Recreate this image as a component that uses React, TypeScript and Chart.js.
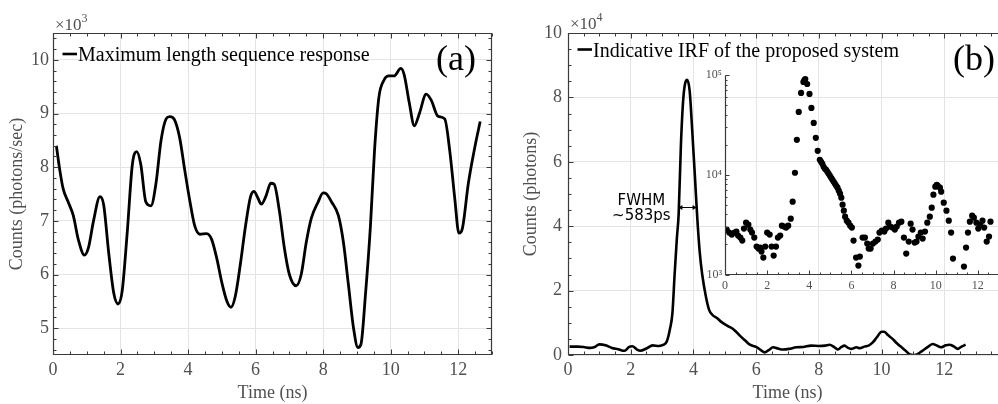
import React, { useEffect, useRef } from 'react';
import { Chart, registerables } from 'chart.js';
Chart.register(...registerables);

// ---------- data ----------
// Panel (a): maximum length sequence response (counts, photons/sec)
const timeA = [0.1, 0.2, 0.3, 0.45, 0.6, 0.75, 0.93, 1.05, 1.2, 1.39, 1.5, 1.65, 1.8, 1.93, 2.05, 2.2, 2.35, 2.48, 2.6, 2.75, 2.9, 3.05, 3.2, 3.35, 3.46, 3.6, 3.75, 3.9, 4.05, 4.2, 4.35, 4.55, 4.7, 4.85, 5.0, 5.15, 5.27, 5.4, 5.55, 5.7, 5.85, 5.95, 6.05, 6.17, 6.3, 6.45, 6.55, 6.7, 6.85, 7.0, 7.2, 7.35, 7.5, 7.65, 7.85, 8.0, 8.1, 8.25, 8.45, 8.6, 8.75, 8.9, 9.03, 9.12, 9.25, 9.4, 9.52, 9.65, 9.8, 9.95, 10.1, 10.3, 10.4, 10.55, 10.7, 10.85, 11.05, 11.2, 11.4, 11.6, 11.75, 11.9, 12.02, 12.12, 12.3, 12.5, 12.65];
const countsA = [8400, 7950, 7600, 7350, 7100, 6650, 6360, 6500, 7000, 7450, 7300, 6400, 5650, 5450, 5700, 6800, 8050, 8290, 8050, 7350, 7280, 7700, 8500, 8900, 8940, 8880, 8550, 7950, 7380, 6900, 6750, 6760, 6650, 6300, 5850, 5500, 5390, 5600, 6200, 6900, 7450, 7550, 7450, 7310, 7450, 7700, 7680, 7200, 6500, 6000, 5790, 6000, 6600, 7050, 7350, 7520, 7500, 7350, 7100, 6600, 5800, 5000, 4640, 4700, 5600, 6900, 8300, 9300, 9620, 9700, 9700, 9840, 9720, 9200, 8770, 9000, 9360, 9250, 8950, 8900, 8300, 7400, 6770, 6850, 7700, 8400, 8850];

// Panel (b): indicative IRF (counts, photons)
const timeB = [0.05, 0.3, 0.5, 0.7, 0.85, 1.0, 1.2, 1.4, 1.6, 1.8, 1.95, 2.05, 2.2, 2.3, 2.5, 2.7, 2.9, 3.05, 3.15, 3.25, 3.33, 3.4, 3.47, 3.53, 3.6, 3.68, 3.8, 3.88, 3.96, 4.05, 4.12, 4.2, 4.28, 4.4, 4.5, 4.6, 4.75, 4.9, 5.1, 5.3, 5.48, 5.65, 5.8, 6.0, 6.15, 6.27, 6.4, 6.54, 6.7, 6.86, 7.05, 7.28, 7.5, 7.75, 8.0, 8.2, 8.34, 8.5, 8.61, 8.72, 8.82, 8.93, 9.03, 9.2, 9.3, 9.45, 9.6, 9.72, 9.85, 10.0, 10.08, 10.2, 10.35, 10.46, 10.6, 10.75, 10.9, 11.0, 11.1, 11.3, 11.5, 11.63, 11.75, 11.89, 12.05, 12.16, 12.3, 12.43, 12.55, 12.68];
const countsB = [2600, 2600, 2500, 2200, 2500, 3300, 3000, 2200, 1800, 1300, 2500, 2700, 1700, 1300, 2000, 3000, 2800, 3200, 4200, 8000, 13000, 25000, 36000, 44000, 65000, 80000, 85500, 82000, 70000, 55000, 43000, 32000, 25000, 18000, 14000, 12500, 11500, 10200, 9000, 7800, 6000, 4500, 3200, 2500, 1500, 800, 1500, 2400, 2000, 1700, 1900, 2400, 2500, 2900, 2800, 2900, 3200, 2400, 1700, 2500, 2900, 2200, 1900, 2400, 2100, 2600, 3000, 3900, 5500, 7200, 7200, 6200, 5000, 3900, 2700, 1500, 200, 0, 100, 1300, 2700, 3400, 3000, 2400, 3000, 3200, 2700, 1900, 2600, 3200];

// Inset: same IRF on a logarithmic scale (scatter)
const timeInset = [0.08, 0.2, 0.32, 0.45, 0.54, 0.62, 0.73, 0.82, 0.9, 1.0, 1.11, 1.2, 1.28, 1.39, 1.5, 1.59, 1.67, 1.73, 1.82, 1.91, 2.0, 2.12, 2.21, 2.31, 2.42, 2.51, 2.62, 2.7, 2.81, 2.9, 3.0, 3.12, 3.21, 3.32, 3.41, 3.5, 3.61, 3.72, 3.77, 3.81, 3.9, 4.01, 4.1, 4.21, 4.31, 4.4, 4.5, 4.56, 4.62, 4.68, 4.74, 4.8, 4.86, 4.92, 4.98, 5.04, 5.1, 5.16, 5.22, 5.28, 5.34, 5.4, 5.46, 5.52, 5.58, 5.64, 5.7, 5.78, 5.86, 5.94, 6.02, 6.1, 6.22, 6.33, 6.4, 6.53, 6.64, 6.75, 6.82, 6.91, 7.02, 7.14, 7.25, 7.33, 7.44, 7.56, 7.64, 7.75, 7.84, 7.95, 8.06, 8.15, 8.26, 8.37, 8.49, 8.6, 8.72, 8.81, 8.9, 9.0, 9.09, 9.18, 9.29, 9.38, 9.49, 9.6, 9.72, 9.81, 9.89, 9.98, 10.05, 10.1, 10.2, 10.26, 10.38, 10.51, 10.62, 10.73, 10.82, 11.34, 11.44, 11.53, 11.62, 11.73, 11.81, 11.93, 12.02, 12.11, 12.22, 12.3, 12.42, 12.53, 12.6];
const countsInset = [2818, 2630, 2512, 2630, 2692, 2455, 2344, 2188, 2884, 3311, 3162, 2818, 2630, 2344, 1905, 1820, 1862, 1698, 1479, 1905, 2630, 2512, 1905, 1549, 1905, 2344, 2455, 3090, 3020, 2951, 3090, 3631, 5370, 10470, 22390, 42660, 66070, 85110, 89000, 91200, 81280, 64570, 46770, 33110, 23440, 17380, 14130, 13500, 12880, 12020, 11480, 11220, 10720, 10230, 9772, 9333, 8913, 8511, 8128, 7762, 7413, 6918, 6457, 5888, 5012, 4365, 3802, 3467, 3311, 3090, 2951, 2188, 1479, 1230, 1514, 2344, 2344, 2042, 1820, 1820, 2042, 2138, 2239, 2630, 2754, 2692, 2884, 3311, 3020, 2951, 2818, 3020, 3311, 3388, 2344, 1622, 2138, 3236, 2818, 2089, 2138, 2399, 2630, 2291, 2692, 3311, 3802, 4677, 6310, 7586, 7943, 7762, 7413, 6761, 5248, 4365, 3467, 2630, 1445, 1202, 1862, 2630, 3388, 3890, 3715, 3311, 2884, 3162, 3467, 2951, 2138, 2399, 3388];

// tick values
const xTicksA = [0, 2, 4, 6, 8, 10, 12];
const yTicksA = [5000, 6000, 7000, 8000, 9000, 10000];
const xTicksB = [0, 2, 4, 6, 8, 10, 12, 14];
const yTicksB = [0, 20000, 40000, 60000, 80000, 100000];
const xTicksInset = [0, 2, 4, 6, 8, 10, 12, 14];
const yTicksInset = [1000, 2000, 3000, 4000, 5000, 6000, 7000, 8000, 9000, 10000, 20000, 30000, 40000, 50000, 60000, 70000, 80000, 90000, 100000];

// annotation (FWHM)
const fwhmStart = 3.52;
const fwhmEnd = 4.1;
const fwhmLevel = 46000;
const fwhmLines = ['FWHM', '~583ps'];

// ---------- styles ----------
const SERIF = "'Liberation Serif', 'Times New Roman', Times, serif";
const SANS = "'DejaVu Sans', Verdana, sans-serif";
const TICK_COLOR = '#505050';
const AXIS_COLOR = '#3a3a3a';
const GRID_COLOR = '#e4e4e4';

function pairs(xs: number[], ys: number[]) {
  return xs.map((x, i) => ({ x, y: ys[i] }));
}
function steps(min: number, max: number, step: number) {
  const out: number[] = [];
  const start = Math.ceil(min / step - 1e-9);
  for (let k = start; k * step <= max + 1e-9; k++) out.push(+(k * step).toFixed(6));
  return out;
}

function framePlugin(cfg: { full: boolean; xMinor: number[]; yMinor: number[]; major: number; minor: number }) {
  return {
    id: 'frameBox',
    afterDatasetsDraw(chart: any) {
      const { ctx, chartArea: ca } = chart;
      const xs = chart.scales.x;
      const ys = chart.scales.y;
      const L = Math.round(ca.left) + 0.5;
      const R = Math.round(ca.right) - 0.5;
      const T = Math.round(ca.top) + 0.5;
      const B = Math.round(ca.bottom) - 0.5;
      ctx.save();
      ctx.strokeStyle = AXIS_COLOR;
      ctx.lineWidth = 1.2;
      ctx.beginPath();
      if (cfg.full) {
        ctx.rect(L, T, R - L, B - T);
      } else {
        ctx.moveTo(L, T);
        ctx.lineTo(L, B);
        ctx.lineTo(chart.width + 10, B);
      }
      ctx.stroke();
      ctx.lineWidth = 1;
      ctx.beginPath();
      const xMaj = xs.ticks.map((t: any) => t.value);
      const yMaj = ys.ticks.filter((t: any) => t.label !== '' || cfg.full).map((t: any) => t.value);
      const xAll = [...xMaj.map((v: number) => [v, cfg.major]), ...cfg.xMinor.filter((v) => !xMaj.includes(v)).map((v) => [v, cfg.minor])];
      const yAll = [...yMaj.map((v: number) => [v, cfg.major]), ...cfg.yMinor.filter((v) => !yMaj.includes(v)).map((v) => [v, cfg.minor])];
      for (const [v, len] of xAll) {
        const p = Math.round(xs.getPixelForValue(v)) + 0.5;
        if (p < ca.left - 1 || p > ca.right + 1) continue;
        ctx.moveTo(p, B);
        ctx.lineTo(p, B - len);
        if (cfg.full) {
          ctx.moveTo(p, T);
          ctx.lineTo(p, T + len);
        }
      }
      for (const [v, len] of yAll) {
        const p = Math.round(ys.getPixelForValue(v)) + 0.5;
        if (p < ca.top - 1 || p > ca.bottom + 1) continue;
        ctx.moveTo(L, p);
        ctx.lineTo(L + len, p);
        if (cfg.full) {
          ctx.moveTo(R, p);
          ctx.lineTo(R - len, p);
        }
      }
      ctx.stroke();
      ctx.restore();
    },
  };
}

function decorPlugin(cfg: { legend: string; legendBaseline: number; dashY: number; tag: string; tagX: number; exp: string; expBaseline: number; fwhm?: boolean }) {
  return {
    id: 'decor',
    afterDraw(chart: any) {
      const { ctx, chartArea: ca } = chart;
      ctx.save();
      // legend
      ctx.strokeStyle = '#000';
      ctx.lineWidth = 2.6;
      ctx.beginPath();
      ctx.moveTo(ca.left + 9.5, cfg.dashY);
      ctx.lineTo(ca.left + 24, cfg.dashY);
      ctx.stroke();
      ctx.fillStyle = '#000';
      ctx.font = `20px ${SERIF}`;
      ctx.textAlign = 'left';
      ctx.textBaseline = 'alphabetic';
      ctx.fillText(cfg.legend, ca.left + 25, cfg.legendBaseline);
      // tag
      ctx.font = `36px ${SERIF}`;
      ctx.fillText(cfg.tag, cfg.tagX, 70);
      // exponent
      ctx.fillStyle = TICK_COLOR;
      ctx.font = `17px ${SERIF}`;
      ctx.fillText('×10', ca.left + 2, cfg.expBaseline);
      const w = ctx.measureText('×10').width;
      ctx.font = `12px ${SERIF}`;
      ctx.fillText(cfg.exp, ca.left + 2 + w, cfg.expBaseline - 8);
      // FWHM annotation
      if (cfg.fwhm) {
        const xs = chart.scales.x;
        const ys = chart.scales.y;
        const x1 = xs.getPixelForValue(fwhmStart);
        const x2 = xs.getPixelForValue(fwhmEnd);
        const y = Math.round(ys.getPixelForValue(fwhmLevel)) + 0.5;
        ctx.strokeStyle = '#000';
        ctx.fillStyle = '#000';
        ctx.lineWidth = 1;
        ctx.beginPath();
        ctx.moveTo(x1, y);
        ctx.lineTo(x2, y);
        ctx.stroke();
        ctx.beginPath();
        ctx.moveTo(x1, y);
        ctx.lineTo(x1 + 4, y - 2.5);
        ctx.lineTo(x1 + 4, y + 2.5);
        ctx.closePath();
        ctx.moveTo(x2, y);
        ctx.lineTo(x2 - 4, y - 2.5);
        ctx.lineTo(x2 - 4, y + 2.5);
        ctx.closePath();
        ctx.fill();
        ctx.font = `15px ${SANS}`;
        ctx.textAlign = 'center';
        ctx.textBaseline = 'middle';
        ctx.fillText(fwhmLines[0], x1 - 37, y - 6);
        ctx.fillText(fwhmLines[1], x1 - 37, y + 9);
      }
      ctx.restore();
    },
  };
}

const tickFont = { family: SERIF, size: 18 };
const titleFont = { family: SERIF, size: 18 };

function mainScales(o: {
  xMax: number; xTicks: number[]; yMin: number; yMax: number; yTicks: number[]; yDiv: number;
  yWidth: number; xHeight: number; yPad: number; yTitle: string; yTitlePad: number;
}) {
  return {
    x: {
      type: 'linear',
      min: 0,
      max: o.xMax,
      afterBuildTicks: (s: any) => { s.ticks = o.xTicks.map((v) => ({ value: v })); },
      afterFit: (s: any) => { s.height = o.xHeight; },
      grid: { color: GRID_COLOR, drawTicks: false, lineWidth: 1 },
      border: { display: false },
      ticks: { font: tickFont, color: TICK_COLOR, padding: 4, autoSkip: false, maxRotation: 0, callback: (v: any) => String(v) },
      title: { display: true, text: 'Time (ns)', font: titleFont, color: TICK_COLOR, padding: { top: 0, bottom: 0 } },
    },
    y: {
      type: 'linear',
      min: o.yMin,
      max: o.yMax,
      afterBuildTicks: (s: any) => { s.ticks = o.yTicks.map((v) => ({ value: v })); },
      afterFit: (s: any) => { s.width = o.yWidth; },
      grid: { color: GRID_COLOR, drawTicks: false, lineWidth: 1 },
      border: { display: false },
      ticks: { font: tickFont, color: TICK_COLOR, padding: o.yPad, autoSkip: false, callback: (v: any) => String(Math.round((v / o.yDiv) * 100) / 100) },
      title: { display: true, text: o.yTitle, font: titleFont, color: TICK_COLOR, padding: { top: o.yTitlePad, bottom: 0 } },
    },
  };
}

const SUP: Record<string, string> = { '0': '⁰', '1': '¹', '2': '²', '3': '³', '4': '⁴', '5': '⁵', '6': '⁶' };

export default function App() {
  const refA = useRef<HTMLCanvasElement>(null);
  const refB = useRef<HTMLCanvasElement>(null);
  const refI = useRef<HTMLCanvasElement>(null);

  useEffect(() => {
    const charts: Chart[] = [];
    charts.push(
      new Chart(refA.current as HTMLCanvasElement, {
        type: 'line',
        data: {
          datasets: [
            {
              data: pairs(timeA, countsA),
              borderColor: '#000',
              borderWidth: 2.8,
              pointRadius: 0,
              fill: false,
              cubicInterpolationMode: 'monotone',
            },
          ],
        },
        options: {
          responsive: false,
          animation: false,
          devicePixelRatio: 1,
          layout: { padding: { left: 0, top: 33, right: 8, bottom: 0 } },
          plugins: { legend: { display: false }, tooltip: { enabled: false } },
          scales: mainScales({
            xMax: 13, xTicks: xTicksA, yMin: 4500, yMax: 10500, yTicks: yTicksA, yDiv: 1000,
            yWidth: 53, xHeight: 49, yPad: 4, yTitle: 'Counts (photons/sec)', yTitlePad: 6,
          }) as any,
        },
        plugins: [
          framePlugin({ full: true, xMinor: steps(0, 13, 0.5), yMinor: steps(4500, 10500, 200), major: 5, minor: 3 }),
          decorPlugin({ legend: 'Maximum length sequence response', legendBaseline: 61, dashY: 54, tag: '(a)', tagX: 436, exp: '3', expBaseline: 29.5 }),
        ],
      } as any)
    );
    charts.push(
      new Chart(refB.current as HTMLCanvasElement, {
        type: 'line',
        data: {
          datasets: [
            {
              data: pairs(timeB, countsB),
              borderColor: '#000',
              borderWidth: 2.6,
              pointRadius: 0,
              fill: false,
              cubicInterpolationMode: 'monotone',
            },
          ],
        },
        options: {
          responsive: false,
          animation: false,
          devicePixelRatio: 1,
          layout: { padding: { left: 0, top: 33, right: 12, bottom: 0 } },
          plugins: { legend: { display: false }, tooltip: { enabled: false } },
          scales: mainScales({
            xMax: 14, xTicks: xTicksB, yMin: 0, yMax: 100000, yTicks: yTicksB, yDiv: 10000,
            yWidth: 68, xHeight: 49, yPad: 6, yTitle: 'Counts (photons)', yTitlePad: 20,
          }) as any,
        },
        plugins: [
          framePlugin({ full: true, xMinor: steps(0, 14, 0.5), yMinor: steps(0, 100000, 5000), major: 5, minor: 3 }),
          decorPlugin({ legend: 'Indicative IRF of the proposed system', legendBaseline: 57, dashY: 49.5, tag: '(b)', tagX: 453, exp: '4', expBaseline: 28.5, fwhm: true }),
        ],
      } as any)
    );
    charts.push(
      new Chart(refI.current as HTMLCanvasElement, {
        type: 'scatter',
        data: {
          datasets: [
            {
              data: pairs(timeInset, countsInset),
              backgroundColor: '#000',
              borderWidth: 0,
              pointRadius: 3.1,
            },
          ],
        },
        options: {
          responsive: false,
          animation: false,
          devicePixelRatio: 1,
          layout: { padding: { left: 0, top: 20, right: 2.5, bottom: 0 } },
          plugins: { legend: { display: false }, tooltip: { enabled: false } },
          scales: {
            x: {
              type: 'linear',
              min: 0,
              max: 14,
              afterBuildTicks: (s: any) => { s.ticks = xTicksInset.map((v) => ({ value: v })); },
              afterFit: (s: any) => { s.height = 30.5; },
              grid: { display: false, drawTicks: false },
              border: { display: false },
              ticks: { font: { family: SERIF, size: 12 }, color: TICK_COLOR, padding: 4, autoSkip: false, maxRotation: 0 },
            },
            y: {
              type: 'logarithmic',
              min: 1000,
              max: 100000,
              afterBuildTicks: (s: any) => { s.ticks = yTicksInset.map((v) => ({ value: v })); },
              afterFit: (s: any) => { s.width = 35; },
              grid: { display: false, drawTicks: false },
              border: { display: false },
              ticks: {
                font: { family: SERIF, size: 12 },
                color: TICK_COLOR,
                padding: 3,
                autoSkip: false,
                callback: (v: any) => {
                  const e = Math.log10(v);
                  if (Math.abs(e - Math.round(e)) < 1e-9) return '10' + SUP[String(Math.round(e))];
                  return '';
                },
              },
            },
          },
        },
        plugins: [
          framePlugin({ full: false, xMinor: steps(0, 14, 0.5), yMinor: yTicksInset, major: 4, minor: 2 }),
        ],
      } as any)
    );
    return () => charts.forEach((c) => c.destroy());
  }, []);

  return (
    <div style={{ position: 'fixed', left: 0, top: 0, width: 998, height: 404, overflow: 'hidden', background: '#fff' }}>
      <canvas ref={refA} width={500} height={404} style={{ position: 'absolute', left: 0, top: 0, width: 500, height: 404 }} />
      <canvas ref={refB} width={520} height={404} style={{ position: 'absolute', left: 500, top: 0, width: 520, height: 404 }} />
      <canvas ref={refI} width={340} height={250} style={{ position: 'absolute', left: 690, top: 55, width: 340, height: 250 }} />
    </div>
  );
}
